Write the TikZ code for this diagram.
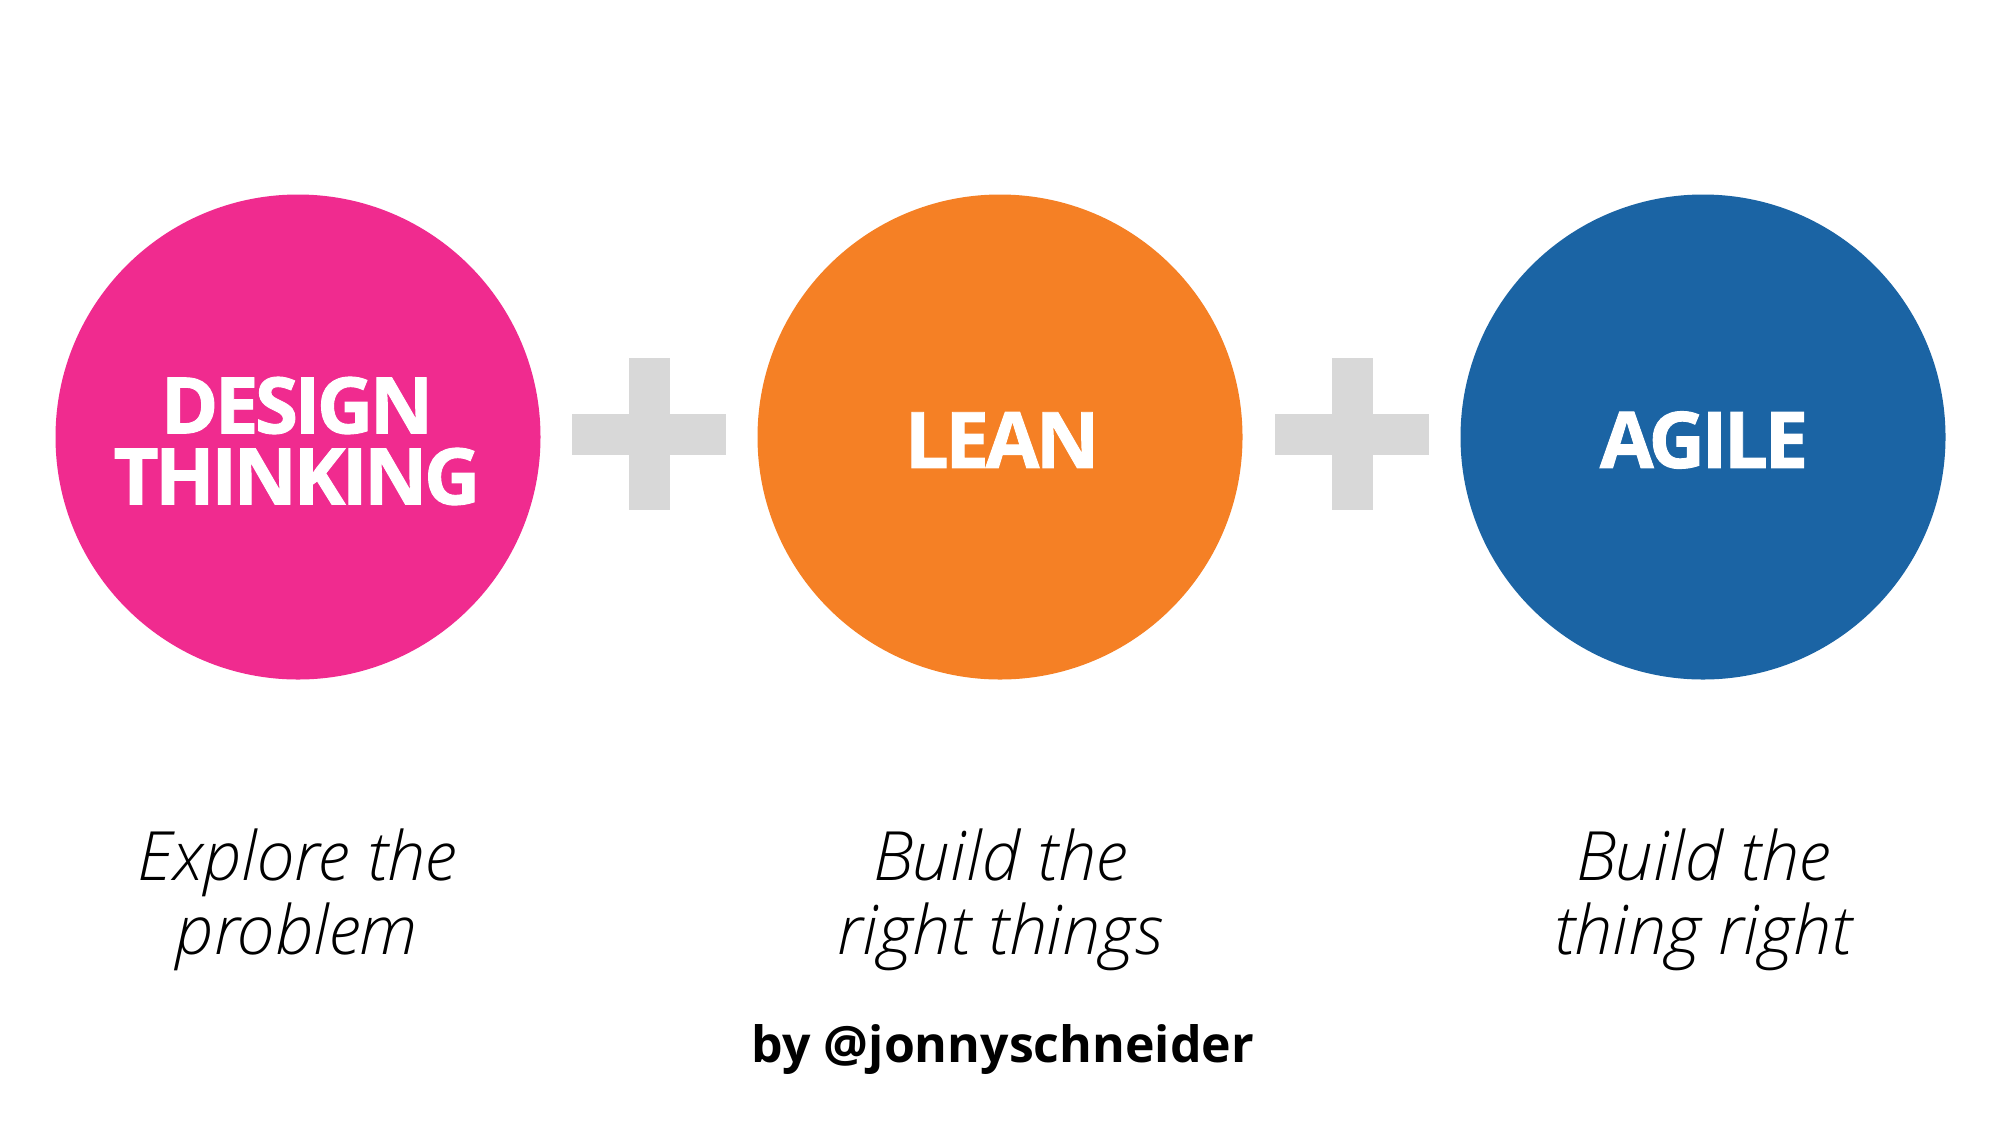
\documentclass[tikz,border=0pt]{standalone}
\usepackage{fontspec}
\setmainfont{Open Sans}
\newfontfamily\osxb{Open Sans}[LetterSpace=-4.5,BoldFeatures={FakeBold=1.2}]
\newfontfamily\oslight{Open Sans Light Italic}
\definecolor{dtpink}{HTML}{F02B8F}
\definecolor{leanorange}{HTML}{F58025}
\definecolor{agileblue}{HTML}{1B64A4}
\definecolor{plusgray}{HTML}{D8D8D8}
\begin{document}
\begin{tikzpicture}[x=0.5pt,y=-0.5pt,
  disc/.style={circle,minimum size=485*0.5pt,inner sep=0pt},
  title/.style={text=white,font=\osxb\bfseries\fontsize{39pt}{35.5pt}\selectfont,align=center,inner sep=0pt},
  caption/.style={font=\oslight\fontsize{34pt}{37pt}\selectfont,align=center,inner sep=0pt},
  plusbar/.style={fill=plusgray,draw=none}]
\useasboundingbox[fill=white] (0,0) rectangle (2000,1125);
\node[disc,fill=dtpink] (c1) at (298,437) {};
\node[disc,fill=leanorange] (c2) at (1000,437) {};
\node[disc,fill=agileblue] (c3) at (1703,437) {};
\node[title] (t1) at (297,441) {DESIGN\\THINKING};
\node[title] (t2) at (1002,440) {LEAN};
\node[title] (t3) at (1704,440) {AGILE};
\coordinate (p1) at (649,434);
\coordinate (p2) at (1352,434);
\foreach \p in {p1,p2}{
  \fill[plusbar] ([xshift=-77*0.5pt,yshift=20.5*0.5pt]\p) rectangle ([xshift=77*0.5pt,yshift=-20.5*0.5pt]\p);
  \fill[plusbar] ([xshift=-20.5*0.5pt,yshift=76*0.5pt]\p) rectangle ([xshift=20.5*0.5pt,yshift=-76*0.5pt]\p);
}
\node[caption] (d1) at (297,900) {Explore the\\problem};
\node[caption] (d2) at (1000,900) {Build the\\right things};
\node[caption] (d3) at (1703,900) {Build the\\thing right};
\node[font=\bfseries\fontsize{25pt}{30pt}\selectfont,anchor=base,inner sep=0pt] (by) at (1003,1062) {by @jonnyschneider};
\end{tikzpicture}
\end{document}
